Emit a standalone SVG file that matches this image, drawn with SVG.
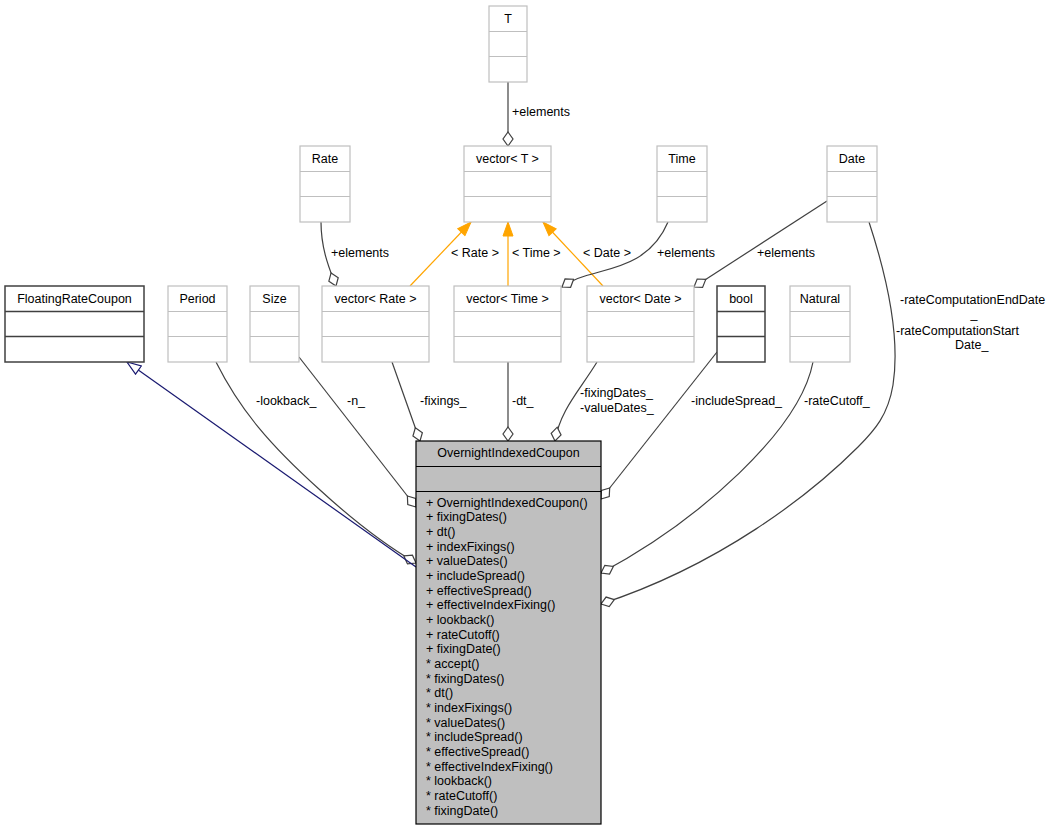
<svg xmlns="http://www.w3.org/2000/svg" width="1055" height="831" viewBox="0 0 1055 831">
<style>
text{font-family:"Liberation Sans",Arial,sans-serif;font-size:12.5px;fill:#000}
.t{text-anchor:middle}
.lb rect,.lb line{stroke:#bfbfbf;stroke-width:1.2;fill:#fff}
.dk rect,.dk line{stroke:#404040;stroke-width:1.5;fill:#fff}
.main rect,.main line{stroke:#000;stroke-width:1.2;fill:#bfbfbf}
.c path{fill:none;stroke:#404040;stroke-width:1.2}
.c path.o{stroke:#ffa500}
.c path.b{stroke:#191970}
</style>
<defs>
<marker id="dia" markerUnits="userSpaceOnUse" viewBox="-1 -1 16 12" refX="14" refY="5" markerWidth="16" markerHeight="12" orient="auto">
<path d="M0,5 L7,0 L14,5 L7,10 Z" fill="#fff" stroke="#404040" stroke-width="1.2"/>
</marker>
<marker id="oar" markerUnits="userSpaceOnUse" viewBox="-1 -1 16 12" refX="14" refY="5" markerWidth="16" markerHeight="12" orient="auto">
<path d="M0,0 L14,5 L0,10 Z" fill="#ffa500" stroke="#ffa500" stroke-width="1"/>
</marker>
<marker id="bar" markerUnits="userSpaceOnUse" viewBox="-1 -1 16 12" refX="14" refY="5" markerWidth="16" markerHeight="12" orient="auto">
<path d="M0,0 L14,5 L0,10 Z" fill="#fff" stroke="#191970" stroke-width="1.2"/>
</marker>
</defs>
<rect width="1055" height="831" fill="#fff"/>

<g class="c" id="connectors">
<path d="M508,82 L508,146" marker-end="url(#dia)"/>
<path d="M321,222 C321,250 330,270 336,286" marker-end="url(#dia)"/>
<path class="o" d="M410,286 L471,222" marker-end="url(#oar)"/>
<path class="o" d="M508,286 L508,222" marker-end="url(#oar)"/>
<path class="o" d="M603,286 L543,222" marker-end="url(#oar)"/>
<path d="M668,222 C650,265 610,268 585,276 C575,279 568,283 562,287" marker-end="url(#dia)"/>
<path d="M827,201 L694,287" marker-end="url(#dia)"/>
<path d="M869,222 C888,280 900,340 893,385 C888,415 875,430 858,447 C810,495 720,565 601,604" marker-end="url(#dia)"/>
<path d="M813,362 C800,430 700,520 601,573" marker-end="url(#dia)"/>
<path d="M717,352 L601,499" marker-end="url(#dia)"/>
<path d="M597,362 C580,390 560,410 555,441" marker-end="url(#dia)"/>
<path d="M508,362 L508,441" marker-end="url(#dia)"/>
<path d="M392,362 L420,441" marker-end="url(#dia)"/>
<path d="M299,357 L416,507" marker-end="url(#dia)"/>
<path d="M216,362 C240,410 270,445 320,490 C355,522 385,545 416,563" marker-end="url(#dia)"/>
<path class="b" d="M416,567 L127,362" marker-end="url(#bar)"/>
<text x="512" y="116">+elements</text>
<text x="331" y="257">+elements</text>
<text x="451" y="257">&lt; Rate &gt;</text>
<text x="512" y="257">&lt; Time &gt;</text>
<text x="583" y="257">&lt; Date &gt;</text>
<text x="657" y="257">+elements</text>
<text x="757" y="257">+elements</text>
<text x="256" y="405">-lookback_</text>
<text x="347" y="405">-n_</text>
<text x="420" y="405">-fixings_</text>
<text x="512" y="405">-dt_</text>
<text x="580" y="397">-fixingDates_</text>
<text x="580" y="412">-valueDates_</text>
<text x="691" y="405">-includeSpread_</text>
<text x="804" y="405">-rateCutoff_</text>
<text x="900" y="304">-rateComputationEndDate</text>
<text x="974" y="318" class="t">_</text>
<text x="896" y="335">-rateComputationStart</text>
<text x="955" y="349">Date_</text>
</g>

<g id="T" class="lb"><rect x="489" y="6" width="38" height="76"/><line x1="489" y1="31.5" x2="527" y2="31.5"/><line x1="489" y1="56.5" x2="527" y2="56.5"/><text x="508" y="23" class="t">T</text></g>
<g id="vectorT" class="lb"><rect x="464" y="146" width="87" height="76"/><line x1="464" y1="171.5" x2="551" y2="171.5"/><line x1="464" y1="196.5" x2="551" y2="196.5"/><text x="507.5" y="163" class="t">vector&lt; T &gt;</text></g>
<g id="Rate" class="lb"><rect x="300" y="146" width="50" height="76"/><line x1="300" y1="171.5" x2="350" y2="171.5"/><line x1="300" y1="196.5" x2="350" y2="196.5"/><text x="325" y="163" class="t">Rate</text></g>
<g id="Time" class="lb"><rect x="657" y="146" width="50" height="76"/><line x1="657" y1="171.5" x2="707" y2="171.5"/><line x1="657" y1="196.5" x2="707" y2="196.5"/><text x="682" y="163" class="t">Time</text></g>
<g id="Date" class="lb"><rect x="827" y="146" width="50" height="76"/><line x1="827" y1="171.5" x2="877" y2="171.5"/><line x1="827" y1="196.5" x2="877" y2="196.5"/><text x="852" y="163" class="t">Date</text></g>

<g id="FloatingRateCoupon" class="dk"><rect x="5" y="286" width="139" height="76"/><line x1="5" y1="311.5" x2="144" y2="311.5"/><line x1="5" y1="336.5" x2="144" y2="336.5"/><text x="74.5" y="303" class="t">FloatingRateCoupon</text></g>
<g id="Period" class="lb"><rect x="168" y="286" width="59" height="76"/><line x1="168" y1="311.5" x2="227" y2="311.5"/><line x1="168" y1="336.5" x2="227" y2="336.5"/><text x="197.5" y="303" class="t">Period</text></g>
<g id="Size" class="lb"><rect x="250" y="286" width="49" height="76"/><line x1="250" y1="311.5" x2="299" y2="311.5"/><line x1="250" y1="336.5" x2="299" y2="336.5"/><text x="274.5" y="303" class="t">Size</text></g>
<g id="vectorRate" class="lb"><rect x="322" y="286" width="107" height="76"/><line x1="322" y1="311.5" x2="429" y2="311.5"/><line x1="322" y1="336.5" x2="429" y2="336.5"/><text x="375.5" y="303" class="t">vector&lt; Rate &gt;</text></g>
<g id="vectorTime" class="lb"><rect x="454" y="286" width="107" height="76"/><line x1="454" y1="311.5" x2="561" y2="311.5"/><line x1="454" y1="336.5" x2="561" y2="336.5"/><text x="507.5" y="303" class="t">vector&lt; Time &gt;</text></g>
<g id="vectorDate" class="lb"><rect x="587" y="286" width="107" height="76"/><line x1="587" y1="311.5" x2="694" y2="311.5"/><line x1="587" y1="336.5" x2="694" y2="336.5"/><text x="640.5" y="303" class="t">vector&lt; Date &gt;</text></g>
<g id="bool" class="dk"><rect x="717" y="286" width="48" height="76"/><line x1="717" y1="311.5" x2="765" y2="311.5"/><line x1="717" y1="336.5" x2="765" y2="336.5"/><text x="741" y="303" class="t">bool</text></g>
<g id="Natural" class="lb"><rect x="790" y="286" width="60" height="76"/><line x1="790" y1="311.5" x2="850" y2="311.5"/><line x1="790" y1="336.5" x2="850" y2="336.5"/><text x="820" y="303" class="t">Natural</text></g>

<g id="OvernightIndexedCoupon" class="main">
<rect x="416" y="441" width="185" height="383"/>
<line x1="416" y1="466.5" x2="601" y2="466.5"/>
<line x1="416" y1="491.5" x2="601" y2="491.5"/>
<text x="508.5" y="457" class="t">OvernightIndexedCoupon</text>
<text x="426" y="506.5">+ OvernightIndexedCoupon()</text>
<text x="426" y="521.2">+ fixingDates()</text>
<text x="426" y="535.8">+ dt()</text>
<text x="426" y="550.5">+ indexFixings()</text>
<text x="426" y="565.2">+ valueDates()</text>
<text x="426" y="579.8">+ includeSpread()</text>
<text x="426" y="594.5">+ effectiveSpread()</text>
<text x="426" y="609.2">+ effectiveIndexFixing()</text>
<text x="426" y="623.9">+ lookback()</text>
<text x="426" y="638.5">+ rateCutoff()</text>
<text x="426" y="653.2">+ fixingDate()</text>
<text x="426" y="667.9">* accept()</text>
<text x="426" y="682.5">* fixingDates()</text>
<text x="426" y="697.2">* dt()</text>
<text x="426" y="711.9">* indexFixings()</text>
<text x="426" y="726.5">* valueDates()</text>
<text x="426" y="741.2">* includeSpread()</text>
<text x="426" y="755.9">* effectiveSpread()</text>
<text x="426" y="770.5">* effectiveIndexFixing()</text>
<text x="426" y="785.2">* lookback()</text>
<text x="426" y="799.9">* rateCutoff()</text>
<text x="426" y="814.5">* fixingDate()</text>
</g>
</svg>
